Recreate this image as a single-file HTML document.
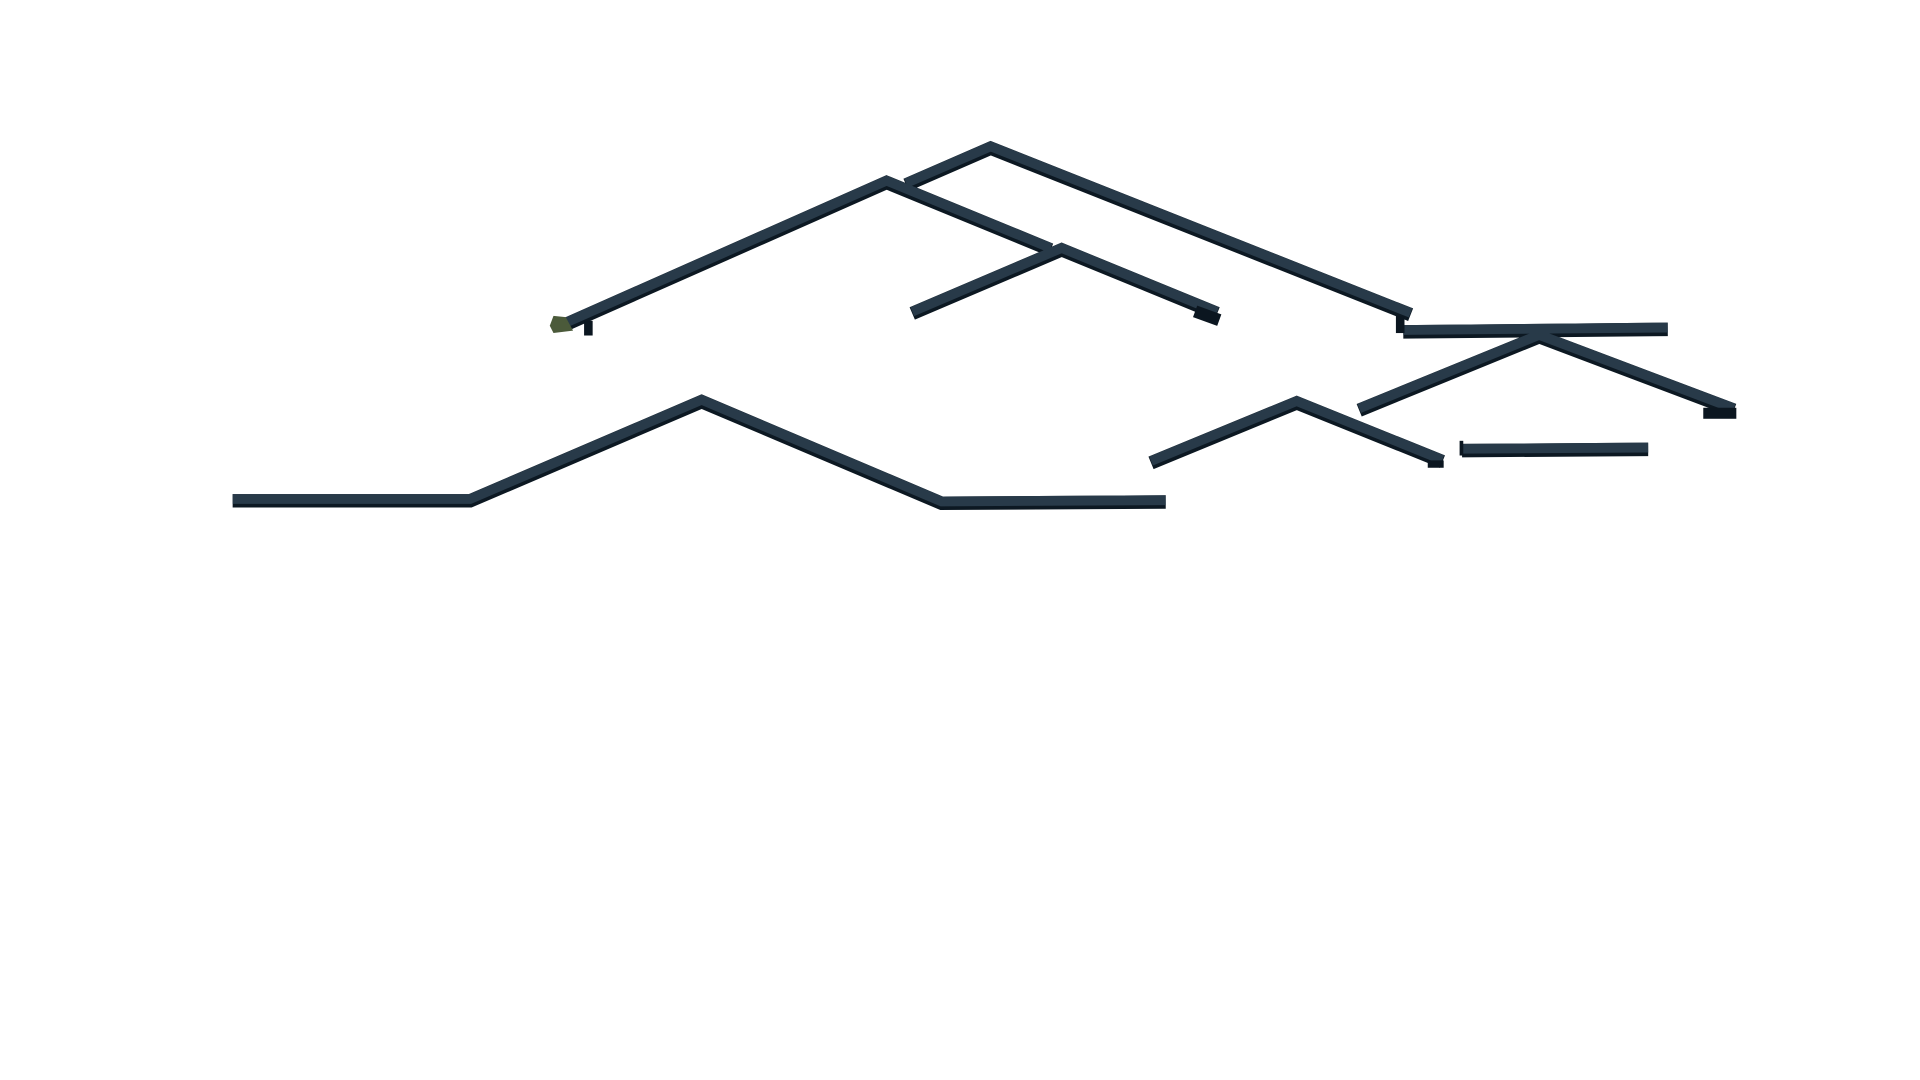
<!DOCTYPE html>
<html><head><meta charset="utf-8"><style>
html,body{margin:0;padding:0;background:#fff;width:1920px;height:1080px;overflow:hidden}
svg{display:block}
</style></head><body>
<svg width="1920" height="1080" viewBox="0 0 1568 882" preserveAspectRatio="none">
<defs>
<g id="lines">
<polyline points="740,151 809,121 1152,257"/>
<polyline points="462,265 724,149 858,204"/>
<polyline points="745,256 867,204 994,256"/>
<polyline points="190,409 384,409 573,328 769,411 952,410"/>
<polyline points="940,378 1059,329 1178,377"/>
<polyline points="1110,335 1257,275 1416,335"/>
<polyline points="1146,271 1362,269"/>
<polyline points="1194,368 1346,367"/>
</g>
</defs>
<g fill="none" stroke-linejoin="miter" stroke-linecap="butt">
<use href="#lines" stroke="#0c1822" stroke-width="11"/>
<use href="#lines" stroke="#283a49" stroke-width="8" transform="translate(0,-1.5)"/>
</g>
<g fill="#0b1620">
<rect x="1140" y="258" width="7" height="14"/>
<rect x="1391" y="333" width="27" height="9"/>
<rect x="975" y="253" width="21" height="10" transform="rotate(20 986 259)"/>
<rect x="1166" y="376" width="13" height="6"/>
<rect x="1192" y="360" width="3" height="12"/>
<rect x="477" y="262" width="7" height="12"/>
</g>
<polygon points="452,258 462,259 468,270 452,272 449,266" fill="#4b5a3a"/>
</svg>
</body></html>
